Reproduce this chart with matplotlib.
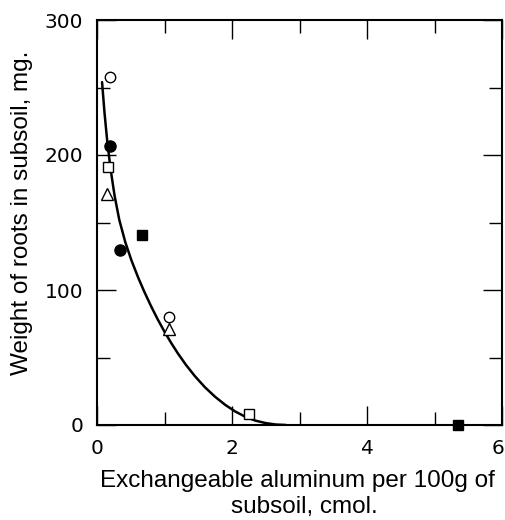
import matplotlib
matplotlib.use("Agg")
import matplotlib.pyplot as plt
from matplotlib.ticker import MultipleLocator, FixedLocator
from matplotlib.transforms import ScaledTranslation

# Data
open_circle_x = [0.19, 1.07]
open_circle_y = [258, 80]
filled_circle_x = [0.19, 0.34]
filled_circle_y = [207, 130]
open_square_x = [0.17, 2.25]
open_square_y = [191, 8]
open_triangle_x = [0.15, 1.07]
open_triangle_y = [171, 71]
filled_square_x = [0.66, 5.35]
filled_square_y = [141, 0]

# fitted curve
curve_x = [0.075, 0.11, 0.15, 0.20, 0.26, 0.33, 0.42, 0.51, 0.61, 0.70, 0.80, 0.90, 1.00,
           1.10, 1.20, 1.32, 1.45, 1.60, 1.75, 1.90, 2.05, 2.20, 2.35, 2.50, 2.65, 2.80]
curve_y = [254, 232, 211, 190, 170, 152, 135.3, 122, 109.2, 98.8, 88.1, 78.2, 69.1,
           60.7, 52.9, 44.4, 36.2, 27.9, 20.9, 14.9, 9.95, 6.05, 3.2, 1.4, 0.35, 0]

x_ticks = [0, 2, 4, 6]
x_ticklabels = ["0", "2", "4", "6"]
y_ticks = [0, 100, 200, 300]
y_ticklabels = ["0", "100", "200", "300"]

xlabel_1 = "Exchangeable aluminum per 100g of"
xlabel_2 = "subsoil, cmol."
ylabel = "Weight of roots in subsoil, mg."

fig = plt.figure(figsize=(5.05, 5.20), dpi=100)
ax = fig.add_axes([97/505, 1 - 425/520, (502-97)/505, (425-20)/520])

ax.plot(curve_x, curve_y, color="black", lw=1.8, solid_joinstyle="round",
        solid_capstyle="round", zorder=2)

ms = 7.5
ax.plot(open_circle_x, open_circle_y, "o", ms=ms, mfc="white", mec="black", mew=1.0, ls="none", zorder=3)
ax.plot(filled_circle_x, filled_circle_y, "o", ms=ms+0.5, mfc="black", mec="black", ls="none", zorder=3)
ax.plot(open_square_x, open_square_y, "s", ms=ms, mfc="white", mec="black", mew=1.0, ls="none", zorder=3)
ax.plot(open_triangle_x, open_triangle_y, "^", ms=ms+1, mfc="white", mec="black", mew=1.0, ls="none", zorder=3)
ax.plot(filled_square_x, filled_square_y, "s", ms=ms, mfc="black", mec="black", ls="none", zorder=3, clip_on=False)

ax.set_xlim(0, 6)
ax.set_ylim(0, 300)
ax.set_xticks(x_ticks)
ax.set_xticklabels(x_ticklabels)
ax.set_yticks(y_ticks)
ax.set_yticklabels(y_ticklabels)
ax.xaxis.set_minor_locator(MultipleLocator(1))
ax.yaxis.set_minor_locator(MultipleLocator(50))

ax.tick_params(which="both", direction="in", top=True, right=True, width=1.0, color="black")
ax.tick_params(which="major", length=13.5, labelsize=14.5, pad=10)
ax.tick_params(which="minor", length=9.5)
for lbl in ax.get_xticklabels() + ax.get_yticklabels():
    lbl.set_family("DejaVu Sans")

# keep the last x tick label inside the figure
last = ax.xaxis.get_major_ticks()[-1].label1
last.set_transform(last.get_transform() + ScaledTranslation(-4/100, 0, fig.dpi_scale_trans))

for s in ax.spines.values():
    s.set_linewidth(1.5)

fig.text(297/505, 1 - 487/520, xlabel_1, ha="center", va="baseline",
         fontsize=17.5, family="Liberation Sans")
fig.text(304/505, 1 - 513/520, xlabel_2, ha="center", va="baseline",
         fontsize=17.5, family="Liberation Sans")
fig.text(22/505, 1 - 213/520, ylabel, ha="center", va="center", rotation=90,
         fontsize=17.5, family="Liberation Sans")

fig.savefig("out.png", dpi=100)
